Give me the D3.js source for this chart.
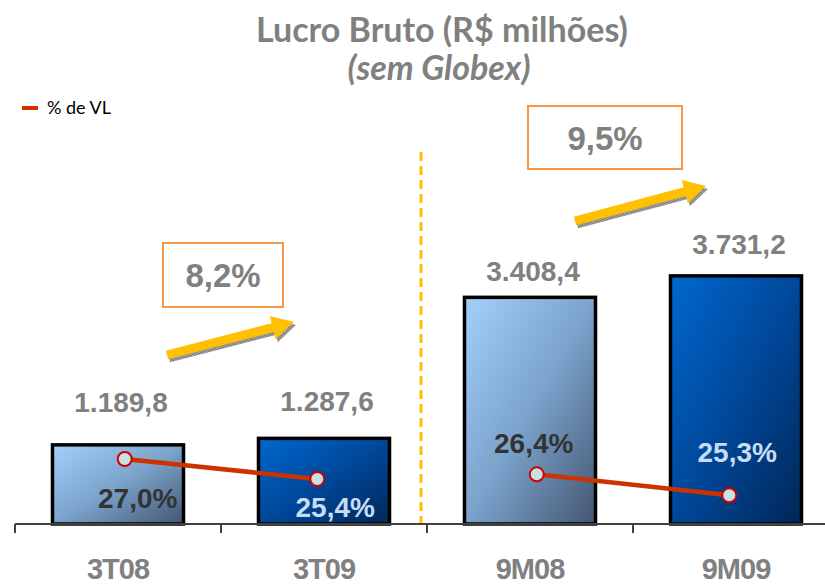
<!DOCTYPE html>
<html>
<head>
<meta charset="utf-8">
<script src="https://cdn.jsdelivr.net/npm/d3@7"></script>
<style>
  body { margin: 0; background: #fff; }
  svg { display: block; }
</style>
</head>
<body>
<div id="chart"></div>
<script>
// chart values
const categories = ["3T08", "3T09", "9M08", "9M09"];
const lucroBruto = [1189.8, 1287.6, 3408.4, 3731.2];
const lucroLabels = ["1.189,8", "1.287,6", "3.408,4", "3.731,2"];
const pctVL = [27.0, 25.4, 26.4, 25.3];
const pctLabels = ["27,0%", "25,4%", "26,4%", "25,3%"];
const groups = [["3T08", "3T09"], ["9M08", "9M09"]];
const growthLabels = ["8,2%", "9,5%"];

const width = 825, height = 586;
const baseY = 524;

const svg = d3.select("#chart").append("svg")
    .attr("width", width)
    .attr("height", height);

const defs = svg.append("defs");

// bar gradients (light = ano anterior, dark = ano atual)
const gradLight = defs.append("linearGradient").attr("id", "gLight")
    .attr("x1", "0%").attr("y1", "0%").attr("x2", "100%").attr("y2", "100%");
gradLight.append("stop").attr("offset", "0%").attr("stop-color", "#a3d0fb");
gradLight.append("stop").attr("offset", "50%").attr("stop-color", "#7ba3cc");
gradLight.append("stop").attr("offset", "100%").attr("stop-color", "#435670");

const gradDark = defs.append("linearGradient").attr("id", "gDark")
    .attr("x1", "0%").attr("y1", "0%").attr("x2", "100%").attr("y2", "100%");
gradDark.append("stop").attr("offset", "0%").attr("stop-color", "#0068cf");
gradDark.append("stop").attr("offset", "50%").attr("stop-color", "#00489a");
gradDark.append("stop").attr("offset", "100%").attr("stop-color", "#002756");

// hatched shadow for the arrows
const hatch = defs.append("pattern").attr("id", "hatch")
    .attr("width", 3).attr("height", 3).attr("patternUnits", "userSpaceOnUse");
hatch.append("rect").attr("width", 3).attr("height", 3).attr("fill", "#d0d0d0");
hatch.append("rect").attr("width", 1.5).attr("height", 1.5).attr("fill", "#555");
hatch.append("rect").attr("x", 1.5).attr("y", 1.5).attr("width", 1.5).attr("height", 1.5).attr("fill", "#555");

// scales
const x = d3.scaleBand().domain(categories).range([15, 839]).padding(0);
const barW = x.bandwidth() * 0.636;
const cx = d => x(d) + x.bandwidth() / 2;

const y = d3.scaleLinear().domain([0, 6000]).range([baseY, baseY - 399]);

// % de VL: each pair is its own small chart
const pctY = [
    d3.scaleLinear().domain([20, 30]).range([546.5, 421.5]),
    d3.scaleLinear().domain([20, 30]).range([596.5, 405.6])
];
const pctX = groups.map(g => d3.scalePoint().domain(g)
    .range([cx(g[0]), cx(g[1])]).padding(0.035));

// title
svg.append("text")
    .attr("x", 442).attr("y", 42)
    .attr("text-anchor", "middle")
    .attr("font-family", "Lato, 'Open Sans', sans-serif")
    .attr("font-weight", "bold")
    .attr("font-size", 34)
    .attr("fill", "#808080")
    .text("Lucro Bruto (R$ milhões)");

svg.append("text")
    .attr("x", 439).attr("y", 80)
    .attr("text-anchor", "middle")
    .attr("font-family", "Lato, 'Open Sans', sans-serif")
    .attr("font-weight", "bold")
    .attr("font-style", "italic")
    .attr("font-size", 34)
    .attr("fill", "#808080")
    .text("(sem Globex)");

// legend
svg.append("line")
    .attr("x1", 22).attr("x2", 38).attr("y1", 108).attr("y2", 108)
    .attr("stroke", "#cc3300").attr("stroke-width", 4);
svg.append("text")
    .attr("x", 47).attr("y", 114)
    .attr("font-family", "Lato, sans-serif")
    .attr("font-size", 18)
    .attr("fill", "#000")
    .text("% de VL");

// divider between quarter and nine months
svg.append("line")
    .attr("x1", x("9M08") - 6).attr("x2", x("9M08") - 6)
    .attr("y1", 152).attr("y2", baseY)
    .attr("stroke", "#ffc000").attr("stroke-width", 3)
    .attr("stroke-dasharray", "9,5");

// bars
svg.append("g")
    .selectAll("rect")
    .data(categories)
    .join("rect")
    .attr("x", d => cx(d) - barW / 2)
    .attr("y", (d, i) => y(lucroBruto[i]))
    .attr("width", barW)
    .attr("height", (d, i) => baseY - y(lucroBruto[i]))
    .attr("fill", (d, i) => i % 2 === 0 ? "url(#gLight)" : "url(#gDark)")
    .attr("stroke", "#000")
    .attr("stroke-width", 3.5);

// axis
const axis = svg.append("g");
axis.append("line")
    .attr("x1", 15).attr("x2", width).attr("y1", baseY).attr("y2", baseY)
    .attr("stroke", "#404040").attr("stroke-width", 2);
axis.selectAll("line.tick")
    .data(categories)
    .join("line")
    .attr("class", "tick")
    .attr("x1", d => x(d)).attr("x2", d => x(d))
    .attr("y1", baseY).attr("y2", baseY + 9)
    .attr("stroke", "#404040").attr("stroke-width", 2);
axis.selectAll("text")
    .data(categories)
    .join("text")
    .attr("x", d => cx(d))
    .attr("y", 579)
    .attr("text-anchor", "middle")
    .attr("font-family", "'Liberation Sans', Arial, sans-serif")
    .attr("font-weight", "bold")
    .attr("font-size", 29)
    .attr("letter-spacing", -1)
    .attr("fill", "#808080")
    .text(d => d);

// value labels above the bars
const valueDy = [-33, -27, -16, -22];
svg.append("g")
    .selectAll("text")
    .data(categories)
    .join("text")
    .attr("x", d => cx(d) + 3)
    .attr("y", (d, i) => y(lucroBruto[i]) + valueDy[i])
    .attr("text-anchor", "middle")
    .attr("font-family", "'Liberation Sans', Arial, sans-serif")
    .attr("font-weight", "bold")
    .attr("font-size", 28)
    .attr("fill", "#808080")
    .text((d, i) => lucroLabels[i]);

// % de VL lines
const pctPoints = categories.map((c, i) => {
    const g = groups.findIndex(gr => gr.includes(c));
    return {cat: c, g: g, x: pctX[g](c), y: pctY[g](pctVL[i]), label: pctLabels[i], i: i};
});

groups.forEach((gr, g) => {
    const pts = pctPoints.filter(p => p.g === g);
    svg.append("path")
        .attr("d", d3.line().x(p => p.x).y(p => p.y)(pts))
        .attr("fill", "none")
        .attr("stroke", "#cc3300")
        .attr("stroke-width", 4.5);
});

svg.append("g")
    .selectAll("circle")
    .data(pctPoints)
    .join("circle")
    .attr("cx", p => p.x)
    .attr("cy", p => p.y)
    .attr("r", 7)
    .attr("fill", "#c5e3e3")
    .attr("stroke", "#d00000")
    .attr("stroke-width", 2);

const pctLabelOffset = [[13, 49], [18, 38], [-3, -21], [8, -33]];
svg.append("g")
    .selectAll("text")
    .data(pctPoints)
    .join("text")
    .attr("x", p => p.x + pctLabelOffset[p.i][0])
    .attr("y", p => p.y + pctLabelOffset[p.i][1])
    .attr("text-anchor", "middle")
    .attr("font-family", "'Liberation Sans', Arial, sans-serif")
    .attr("font-weight", "bold")
    .attr("font-size", 28)
    .attr("fill", p => p.i % 2 === 0 ? "#333333" : "#c6ddf6")
    .text(p => p.label);

// growth boxes + arrows
const growthBoxes = [
    {x: 163, y: 243, w: 120, h: 64},
    {x: 528, y: 106, w: 154, h: 63}
];
const growthArrows = [
    {x1: 167, y1: 355, x2: 294, y2: 322},
    {x1: 575, y1: 221, x2: 706, y2: 186}
];

growthLabels.forEach((lab, g) => {
    const b = growthBoxes[g];
    svg.append("rect")
        .attr("x", b.x).attr("y", b.y).attr("width", b.w).attr("height", b.h)
        .attr("fill", "#fff")
        .attr("stroke", "#f79646").attr("stroke-width", 2);
    svg.append("text")
        .attr("x", b.x + b.w / 2).attr("y", b.y + b.h / 2 + 12)
        .attr("text-anchor", "middle")
        .attr("font-family", "'Liberation Sans', Arial, sans-serif")
        .attr("font-weight", "bold")
        .attr("font-size", 33)
        .attr("fill", "#808080")
        .text(lab);

    const a = growthArrows[g];
    const len = Math.hypot(a.x2 - a.x1, a.y2 - a.y1);
    const ang = Math.atan2(a.y2 - a.y1, a.x2 - a.x1) * 180 / Math.PI;
    const sh = 4.5, hl = 22, hw = 12;
    const arrowPath = `M0,${-sh} L${len - hl},${-sh} L${len - hl},${-hw} L${len},0 L${len - hl},${hw} L${len - hl},${sh} L0,${sh} Z`;
    svg.append("path")
        .attr("d", arrowPath)
        .attr("transform", `translate(${a.x1 + 2},${a.y1 + 3}) rotate(${ang})`)
        .attr("fill", "url(#hatch)");
    svg.append("path")
        .attr("d", arrowPath)
        .attr("transform", `translate(${a.x1},${a.y1}) rotate(${ang})`)
        .attr("fill", "#ffc000");
});
</script>
</body>
</html>
